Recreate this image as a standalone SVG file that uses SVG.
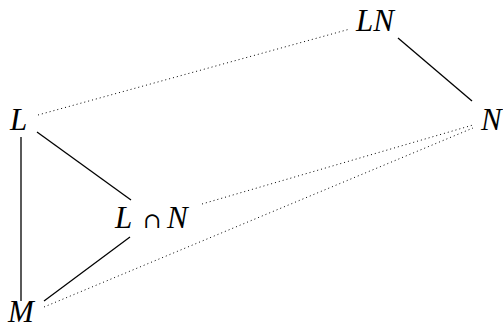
<svg xmlns="http://www.w3.org/2000/svg" width="503" height="329" viewBox="0 0 503 329">
<style>
.lbl{font-family:"Liberation Serif","DejaVu Serif",serif;font-style:italic;font-size:31px;fill:#000}
.op{font-family:"DejaVu Serif","Liberation Serif",serif;font-style:normal;font-size:22px}
.solid{stroke:#000;stroke-width:1.3;fill:none}
.dot{stroke:#000;stroke-width:1;fill:none;stroke-dasharray:1 3}
</style>
<rect width="503" height="329" fill="#fff"/>
<g id="connectors">
<line class="solid" x1="398" y1="38" x2="472" y2="101"/>
<line class="solid" x1="37" y1="132" x2="131" y2="200"/>
<line class="solid" x1="21" y1="137" x2="21" y2="301"/>
<line class="solid" x1="44" y1="301" x2="130" y2="237"/>
<line class="dot" x1="38" y1="115" x2="350" y2="29"/>
<line class="dot" x1="202" y1="204" x2="473" y2="125"/>
<line class="dot" x1="44" y1="307" x2="473" y2="128"/>
</g>
<g id="node-LN"><text class="lbl" x="356" y="31">LN</text></g>
<g id="node-N"><text class="lbl" x="481" y="130">N</text></g>
<g id="node-L"><text class="lbl" x="10" y="130">L</text></g>
<g id="node-LcapN"><text class="lbl" x="115" y="228">L<tspan class="op" x="143">∩</tspan><tspan x="167">N</tspan></text></g>
<g id="node-M"><text class="lbl" x="8" y="322">M</text></g>
</svg>
